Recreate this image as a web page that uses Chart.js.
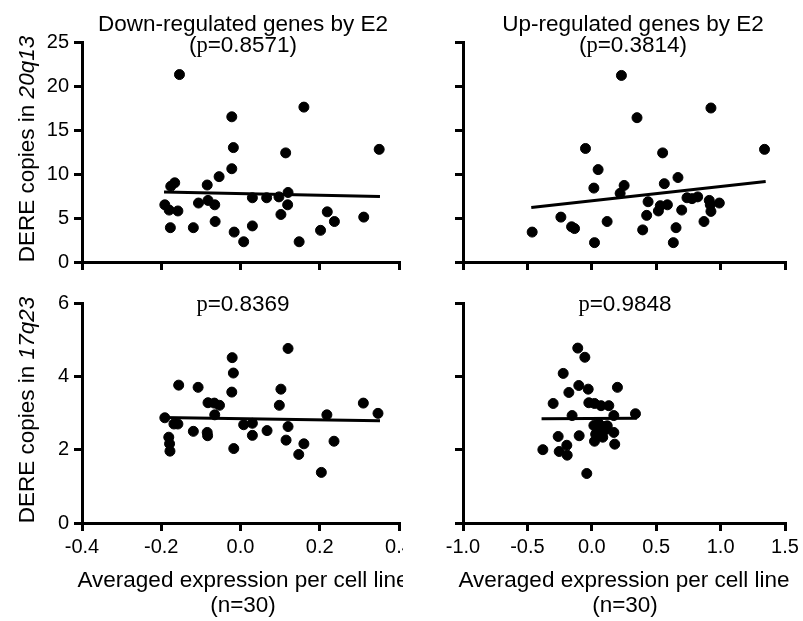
<!DOCTYPE html>
<html lang="en">
<head>
<meta charset="UTF-8">
<title>DERE copies vs averaged expression</title>
<script src="https://cdn.jsdelivr.net/npm/chart.js"></script>
<style>
    body { margin: 0; background: #fff; font-family: Arial, 'Liberation Sans', sans-serif; }
    #page { position: relative; width: 803px; height: 621px; overflow: hidden; background: #fff; }
    canvas { position: absolute; }
    .txt { position: absolute; transform: translate(-50%, -50%); white-space: nowrap; line-height: 1; font-size: 22.5px; color: #000; }
    .rot { transform: translate(-50%, -50%) rotate(-90deg); }
    .serif { font-family: 'Times New Roman', 'Liberation Serif', serif; }
    #clipLeft { position: absolute; left: 0; top: 0; width: 403px; height: 621px; overflow: hidden; }
    /* the right panel cuts off the last tick label of the left panel */
    #labelMask { position: absolute; left: 403px; top: 536px; width: 3px; height: 26px; background: #fff; }
</style>
</head>
<body>
<div id="page">
    <canvas id="tl" width="405" height="275" style="left:0;top:0"></canvas>
    <canvas id="tr" width="398" height="275" style="left:405px;top:0"></canvas>
    <canvas id="bl" width="405" height="290" style="left:0;top:280px"></canvas>
    <canvas id="br" width="398" height="290" style="left:405px;top:280px"></canvas>
    <div id="labelMask"></div>

    <div class="txt" style="left:243px;top:24px">Down-regulated genes by E2</div>
    <div class="txt" style="left:243px;top:45px">(<span class="serif">p</span>=0.8571)</div>
    <div class="txt" style="left:633px;top:24px">Up-regulated genes by E2</div>
    <div class="txt" style="left:633px;top:45px">(<span class="serif">p</span>=0.3814)</div>
    <div class="txt" style="left:243px;top:304px"><span class="serif">p</span>=0.8369</div>
    <div class="txt" style="left:625px;top:304px"><span class="serif">p</span>=0.9848</div>

    <div class="txt rot" style="left:27px;top:149px">DERE copies in <i>20q13</i></div>
    <div class="txt rot" style="left:27px;top:410px">DERE copies in <i>17q23</i></div>

    <div id="clipLeft">
        <div class="txt" style="left:243px;top:580px">Averaged expression per cell line</div>
        <div class="txt" style="left:243px;top:605px">(n=30)</div>
    </div>
    <div class="txt" style="left:624px;top:580px">Averaged expression per cell line</div>
    <div class="txt" style="left:625px;top:605px">(n=30)</div>
</div>

<script>
    // down-regulated genes, 20q13
    const downX20 = [-0.154, -0.166, -0.176, -0.191, -0.180, -0.158, -0.177, -0.119, -0.106, -0.084, -0.082, -0.065, -0.064, -0.054, -0.022, -0.018, -0.022, -0.016, 0.008, 0.030, 0.030, 0.066, 0.097, 0.102, 0.114, 0.120, 0.119, 0.160, 0.148, 0.202, 0.219, 0.237, 0.311, 0.350];
    const downY20 = [21.3, 9.0, 8.6, 6.5, 5.9, 5.8, 3.9, 3.9, 6.7, 8.75, 7.0, 6.5, 4.6, 9.7, 16.5, 13.0, 10.6, 3.4, 2.3, 7.3, 4.1, 7.3, 7.4, 5.4, 12.4, 7.9, 6.5, 17.6, 2.3, 3.6, 5.7, 4.6, 5.1, 12.8];
    const fitDownX20 = [-0.193, 0.352];
    const fitDownY20 = [7.95, 7.45];

    // up-regulated genes, 20q13
    const upX20 = [-0.463, -0.240, -0.157, -0.134, -0.049, 0.016, 0.021, 0.049, 0.119, 0.230, 0.220, 0.251, 0.351, 0.395, 0.426, 0.437, 0.517, 0.532, 0.587, 0.550, 0.563, 0.669, 0.698, 0.654, 0.633, 0.739, 0.778, 0.822, 0.871, 0.912, 0.920, 0.925, 0.990, 0.925, 1.341];
    const upY20 = [3.4, 5.1, 4.0, 3.8, 12.9, 8.4, 2.2, 10.5, 4.6, 21.2, 7.8, 8.7, 16.4, 3.65, 5.3, 6.85, 5.8, 6.4, 6.5, 12.4, 8.9, 9.6, 5.9, 3.9, 2.2, 7.3, 7.2, 7.4, 4.6, 7.0, 6.5, 5.75, 6.7, 17.5, 12.8];
    const fitUpX20 = [-0.47, 1.35];
    const fitUpY20 = [6.2, 9.15];

    // down-regulated genes, 17q23
    const downX17 = [-0.191, -0.181, -0.179, -0.178, -0.168, -0.158, -0.156, -0.119, -0.107, -0.084, -0.083, -0.082, -0.066, -0.053, -0.065, -0.021, -0.018, -0.022, -0.017, 0.008, 0.030, 0.030, 0.067, 0.098, 0.102, 0.120, 0.120, 0.115, 0.147, 0.160, 0.204, 0.218, 0.236, 0.310, 0.347];
    const downY17 = [2.87, 2.34, 2.16, 1.96, 2.70, 2.70, 3.76, 2.50, 3.70, 2.47, 2.38, 3.28, 3.27, 3.21, 2.95, 4.51, 4.09, 3.57, 2.03, 2.68, 2.72, 2.39, 2.52, 3.21, 3.65, 4.76, 2.63, 2.26, 1.87, 2.16, 1.38, 2.95, 2.23, 3.27, 2.99];
    const fitDownX17 = [-0.199, 0.352];
    const fitDownY17 = [2.88, 2.79];

    // up-regulated genes, 17q23
    const upX17 = [-0.109, -0.054, -0.222, -0.101, -0.028, -0.178, 0.199, -0.300, -0.023, 0.021, 0.072, 0.132, -0.153, 0.171, 0.339, 0.016, 0.054, 0.093, 0.054, 0.085, 0.171, -0.261, -0.098, 0.021, 0.178, -0.194, -0.380, -0.253, -0.191, -0.039, 0.040, 0.070, 0.110, 0.030, 0.120];
    const upY17 = [4.77, 4.52, 4.08, 3.75, 3.65, 3.56, 3.70, 3.26, 3.28, 3.26, 3.20, 3.20, 2.93, 2.93, 2.98, 2.66, 2.71, 2.63, 2.50, 2.34, 2.47, 2.36, 2.38, 2.23, 2.15, 2.12, 2.00, 1.95, 1.85, 1.35, 2.58, 2.45, 2.55, 2.42, 2.65];
    const fitUpX17 = [-0.39, 0.35];
    const fitUpY17 = [2.84, 2.86];

    // tick values
    const xTicksDown = [-0.4, -0.2, 0.0, 0.2, 0.4];
    const xTicksUp = [-1.0, -0.5, 0.0, 0.5, 1.0, 1.5];
    const yTicks20 = [0, 5, 10, 15, 20, 25];
    const yTicks17 = [0, 2, 4, 6];

    Chart.defaults.font.family = "Arial, 'Liberation Sans', sans-serif";
    Chart.defaults.color = '#000';

    function toPoints(xs, ys) {
        return xs.map((x, i) => ({ x: x, y: ys[i] }));
    }

    function fmt1(v) {
        const s = Number(v).toFixed(1);
        return s === '-0.0' ? '0.0' : s;
    }

    function makePanel(id, cfg) {
        const axisStyle = {
            grid: { drawOnChartArea: false, color: '#000', lineWidth: 3, tickLength: 8 },
            border: { color: '#000', width: 3 }
        };
        return new Chart(document.getElementById(id), {
            type: 'scatter',
            data: {
                datasets: [{
                    data: toPoints(cfg.xs, cfg.ys),
                    backgroundColor: '#000',
                    borderColor: '#000',
                    pointRadius: 5,
                    pointHoverRadius: 5
                }, {
                    data: toPoints(cfg.fitX, cfg.fitY),
                    showLine: true,
                    borderColor: '#000',
                    borderWidth: 3,
                    pointRadius: 0,
                    fill: false
                }]
            },
            options: {
                responsive: false,
                animation: false,
                events: [],
                layout: { padding: cfg.padding },
                plugins: { legend: { display: false }, tooltip: { enabled: false } },
                scales: {
                    x: {
                        type: 'linear',
                        min: cfg.xTicks[0],
                        max: cfg.xTicks[cfg.xTicks.length - 1],
                        afterBuildTicks: s => { s.ticks = cfg.xTicks.map(v => ({ value: v })); },
                        afterFit: s => { s.height = cfg.xHeight; s.paddingLeft = 0; s.paddingRight = 0; },
                        ...axisStyle,
                        ticks: { display: cfg.showX, font: { size: 20 }, padding: 4, maxRotation: 0, autoSkip: false, callback: v => fmt1(v) }
                    },
                    y: {
                        type: 'linear',
                        min: cfg.yTicks[0],
                        max: cfg.yTicks[cfg.yTicks.length - 1],
                        afterBuildTicks: s => { s.ticks = cfg.yTicks.map(v => ({ value: v })); },
                        afterFit: s => { s.width = cfg.yWidth; s.paddingTop = 0; s.paddingBottom = 0; },
                        ...axisStyle,
                        ticks: { display: cfg.showY, font: { size: 20 }, padding: 5, autoSkip: false, callback: v => String(v) }
                    }
                }
            }
        });
    }

    makePanel('tl', { xs: downX20, ys: downY20, fitX: fitDownX20, fitY: fitDownY20, xTicks: xTicksDown, yTicks: yTicks20,
        showX: false, showY: true, yWidth: 82, xHeight: 13, padding: { top: 42, left: 0, right: 1, bottom: 0 } });
    makePanel('tr', { xs: upX20, ys: upY20, fitX: fitUpX20, fitY: fitUpY20, xTicks: xTicksUp, yTicks: yTicks20,
        showX: false, showY: false, yWidth: 58, xHeight: 13, padding: { top: 42, left: 0, right: 18, bottom: 0 } });
    makePanel('bl', { xs: downX17, ys: downY17, fitX: fitDownX17, fitY: fitDownY17, xTicks: xTicksDown, yTicks: yTicks17,
        showX: true, showY: true, yWidth: 82, xHeight: 47, padding: { top: 23, left: 0, right: 1, bottom: 0 } });
    makePanel('br', { xs: upX17, ys: upY17, fitX: fitUpX17, fitY: fitUpY17, xTicks: xTicksUp, yTicks: yTicks17,
        showX: true, showY: false, yWidth: 58, xHeight: 47, padding: { top: 23, left: 0, right: 18, bottom: 0 } });
</script>
</body>
</html>
